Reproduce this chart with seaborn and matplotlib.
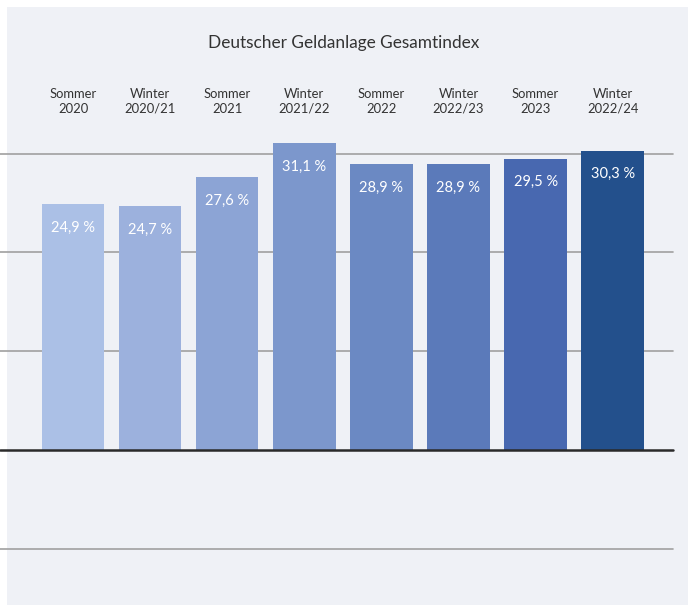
import matplotlib
matplotlib.use("Agg")
import matplotlib.pyplot as plt
import seaborn as sns
import pandas as pd
from matplotlib.patches import Rectangle

categories = ["Sommer\n2020", "Winter\n2020/21", "Sommer\n2021", "Winter\n2021/22",
              "Sommer\n2022", "Winter\n2022/23", "Sommer\n2023", "Winter\n2022/24"]
values = [24.9, 24.7, 27.6, 31.1, 28.9, 28.9, 29.5, 30.3]
value_labels = ["24,9 %", "24,7 %", "27,6 %", "31,1 %", "28,9 %", "28,9 %", "29,5 %", "30,3 %"]
colors = ["#abc0e6", "#9cb1dd", "#8ca4d5", "#7c97cc", "#6b89c3", "#5b7aba", "#4868b0", "#23508c"]
gridlines = [-10, 10, 20, 30]
title = "Deutscher Geldanlage Gesamtindex"

sns.set_theme(style="white")
plt.rcParams['font.family'] = ['Lato', 'DejaVu Sans']

df = pd.DataFrame({"cat": categories, "val": values})

fig = plt.figure(figsize=(6.88, 6.05), dpi=100, facecolor="white")
fig.patches.append(Rectangle((7 / 688, 0), 1 - 7 / 688, 1 - 7 / 605,
                             transform=fig.transFigure, facecolor="#eff1f6",
                             edgecolor="none", zorder=-10))
ax = fig.add_axes([0, 0, 1, 1])
ax.set_facecolor("none")
ax.set_zorder(5)

sns.barplot(data=df, x="cat", y="val", hue="cat", palette=colors, legend=False,
            width=0.81, saturation=1, linewidth=0, ax=ax, zorder=3)

ax.set_xlim(-0.947, 7.977)
ax.set_ylim(-15.7, 45.55)

xmax_frac = 673 / 688
for g in gridlines:
    ax.axhline(g, xmin=0, xmax=xmax_frac, color="#a0a0a0", lw=1.2, zorder=1)
ax.axhline(0, xmin=0, xmax=xmax_frac, color="#2a2a2a", lw=1.8, zorder=4)

for i, (v, lab) in enumerate(zip(values, value_labels)):
    ax.text(i, v - 2.4, lab, ha="center", va="center", color="white",
            fontsize=10.5, zorder=5)
    ax.text(i, 35.3, categories[i], ha="center", va="center", color="#333333",
            fontsize=9.4, linespacing=1.32, zorder=5)

ax.text(0.5, 41.2, title, transform=ax.get_yaxis_transform(), ha="center",
        va="center", fontsize=12.4, color="#333333")

ax.set_axis_off()
fig.savefig("out.png", dpi=100, facecolor="white")
